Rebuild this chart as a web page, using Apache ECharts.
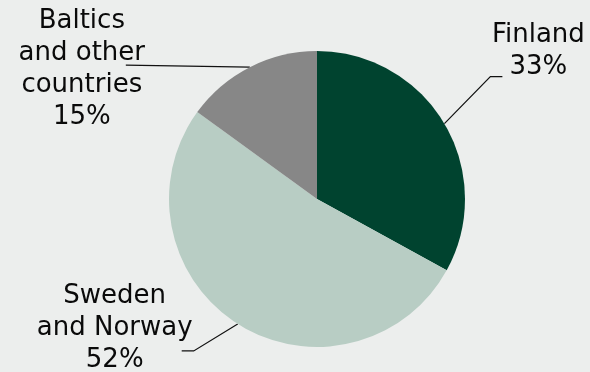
<!DOCTYPE html>
<html>
<head>
<meta charset="utf-8">
<script src="https://cdn.jsdelivr.net/npm/echarts@6/dist/echarts.min.js"></script>
<style>
  html, body { margin: 0; padding: 0; background: #eceeed; }
  #chart { width: 590px; height: 372px; }
</style>
</head>
<body>
<div id="chart"></div>
<script>
// Market split by region (share of total, %)
const regions = ['Finland', 'Sweden\nand Norway', 'Baltics\nand other\ncountries'];
const shares = [33, 52, 15];
const sliceColors = ['#00432f', '#b8cdc4', '#878787'];

// Label placement, as offsets from each slice's rim anchor point
const labelPlacement = [
  { text: [94, -72], bend: [46, -47], end: [58, -47] },
  { text: [-123, 4], bend: [-44, 27], end: [-56, 27] },
  { text: [-168, 2], bend: [-62, -1], end: [-124, -2] }
];

const chart = echarts.init(document.getElementById('chart'), null, { renderer: 'canvas' });

chart.setOption({
  backgroundColor: '#eceeed',
  animation: false,
  series: [{
    type: 'pie',
    center: [317, 199],
    radius: 148,
    startAngle: 90,
    clockwise: true,
    avoidLabelOverlap: false,
    silent: true,
    data: regions.map((name, i) => ({
      name: name,
      value: shares[i],
      itemStyle: { color: sliceColors[i] }
    })),
    itemStyle: { borderWidth: 0 },
    label: {
      show: true,
      position: 'outside',
      formatter: p => p.name + '\n' + p.value + '%',
      fontFamily: 'DejaVu Sans',
      fontSize: 26,
      lineHeight: 32,
      color: '#0a0a0a',
      align: 'center'
    },
    labelLine: {
      show: true,
      length: 20,
      length2: 10,
      lineStyle: { color: '#111111', width: 1.2 }
    },
    labelLayout: function (params) {
      const p = labelPlacement[params.dataIndex];
      const a = params.labelLinePoints[0];
      const ax = a[0], ay = a[1];
      return {
        x: ax + p.text[0],
        y: ay + p.text[1],
        align: 'center',
        verticalAlign: 'middle',
        labelLinePoints: [
          [ax, ay],
          [ax + p.bend[0], ay + p.bend[1]],
          [ax + p.end[0], ay + p.end[1]]
        ]
      };
    }
  }]
});
</script>
</body>
</html>
